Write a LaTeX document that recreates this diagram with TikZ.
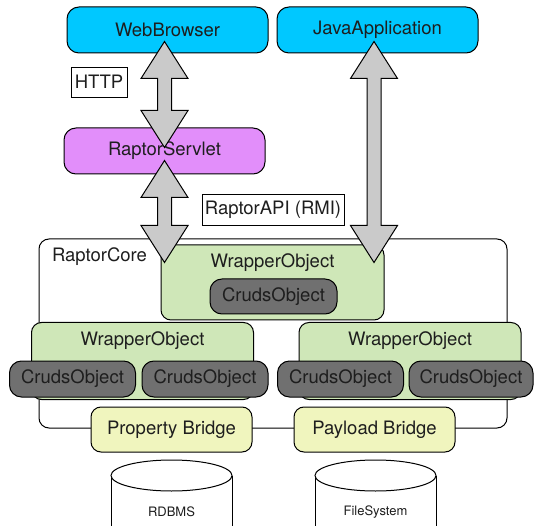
\documentclass[tikz,border=0pt]{standalone}
\usepackage{fontspec}
\setmainfont{TeX Gyre Heros}
\usepackage{xcolor}
\definecolor{rcyan}{RGB}{0,200,255}
\definecolor{rviolet}{RGB}{226,142,250}
\definecolor{rgreen}{RGB}{207,231,184}
\definecolor{rgrey}{RGB}{112,112,112}
\definecolor{ryellow}{RGB}{240,245,190}
\definecolor{rarrow}{RGB}{202,202,202}
\definecolor{rtext}{RGB}{30,30,30}
\usepackage{tikz}
\usetikzlibrary{calc}
\newcommand{\bigtxt}{\fontsize{18.5}{21}\selectfont}
\newcommand{\smalltxt}{\fontsize{13}{15}\selectfont}
% fat double arrow from top tip #1 down to bottom tip #2
\newcommand{\fatarrow}[2]{%
  \draw[fatarr] let \p1=#1, \p2=#2 in
    (\x1,\y1) -- ++(23.5pt,-37pt) -- ++(-16.5pt,0pt) -- (\x1+7pt,\y2+37pt)
    -- ++(16.5pt,0pt) -- (\x2,\y2) -- ++(-23.5pt,37pt) -- ++(16.5pt,0pt)
    -- (\x1-7pt,\y1-37pt) -- ++(-16.5pt,0pt) -- cycle;}
\tikzset{
  client/.style={draw, rounded corners=12pt, fill=rcyan, minimum width=201pt, minimum height=46pt, font=\bigtxt},
  servl/.style={draw, rounded corners=12pt, fill=rviolet, minimum width=201pt, minimum height=46pt, font=\bigtxt},
  tag/.style={draw, line width=0.6pt, fill=white, inner sep=0pt, font=\bigtxt},
  corebox/.style={draw, rounded corners=10pt, minimum width=468pt, minimum height=189pt},
  wrap/.style={draw, rounded corners=10pt, fill=rgreen, minimum width=222pt, minimum height=77pt,
    label={[anchor=north, yshift=-5.5pt, font=\bigtxt, text=rtext]north:WrapperObject}},
  cruds/.style={draw, rounded corners=12pt, fill=rgrey, minimum width=126pt, minimum height=36pt, font=\bigtxt},
  bridge/.style={draw, rounded corners=10pt, fill=ryellow, minimum width=161pt, minimum height=45pt, font=\bigtxt},
  dbtxt/.style={font=\smalltxt},
  fatarr/.style={draw, fill=rarrow, line width=1pt, line join=miter}
}
\begin{document}
\begin{tikzpicture}[x=1pt, y=-1pt, line width=1pt, every node/.style={text=rtext}]
  \useasboundingbox (0,0) rectangle (535,526);
  \node[client] (web) at (167.5,30) {WebBrowser};
  \node[client] (java) at (377.5,30) {JavaApplication};
  \node[tag, minimum width=56pt, minimum height=30pt] (http) at (99,82) {HTTP};
  \node[servl] (servlet) at (164.5,151) {RaptorServlet};
  \node[tag, minimum width=142pt, minimum height=31pt] (rmi) at (273,209.5) {RaptorAPI (RMI)};
  \node[corebox] (core) at (273,333.5) {};
  \node[font=\bigtxt] (corename) at (99.5,257) {RaptorCore};
  \node[wrap, minimum width=223pt, minimum height=75pt] (topwrap) at (272.5,282.5) {};
  \node[cruds, minimum width=127pt, minimum height=35pt] (topcruds) at (273.5,296.5) {CrudsObject};
  \node[wrap] (leftwrap) at (142.5,361) {};
  \node[wrap] (rightwrap) at (410,361) {};
  \node[cruds] (lcruds1) at (72.5,379) {CrudsObject};
  \node[cruds] (lcruds2) at (205,379) {CrudsObject};
  \node[cruds] (rcruds1) at (340.5,379) {CrudsObject};
  \node[cruds, minimum width=124pt] (rcruds2) at (471,379) {CrudsObject};
  \node[bridge] (propbridge) at (171.5,429.5) {Property Bridge};
  \node[bridge] (paybridge) at (374.5,429.5) {Payload Bridge};
  % data stores
  \fill[white] (111,475.5) rectangle (232,527);
  \draw (111,475.5) -- (111,527) (232,475.5) -- (232,527);
  \draw[fill=white] (171.5,475.5) ellipse [x radius=60.5, y radius=15.5];
  \node[dbtxt] (rdbms) at (171.5,512) {RDBMS};
  \fill[white] (315,475.5) rectangle (436,527);
  \draw (315,475.5) -- (315,527) (436,475.5) -- (436,527);
  \draw[fill=white] (375.5,475.5) ellipse [x radius=60.5, y radius=15.5];
  \node[dbtxt] (filesys) at (375.5,512) {FileSystem};
  % protocol arrows
  \fatarrow{($(web.south -| servlet.center)+(0,-12)$)}{($(servlet.north)+(0,20)$)}
  \fatarrow{($(servlet.south)+(0,-14)$)}{($(topwrap.north -| servlet.center)+(0,18)$)}
  \fatarrow{($(java.south)+(-3.5,-12)$)}{($(topwrap.north -| java.south)+(-3.5,18)$)}
\end{tikzpicture}
\end{document}
